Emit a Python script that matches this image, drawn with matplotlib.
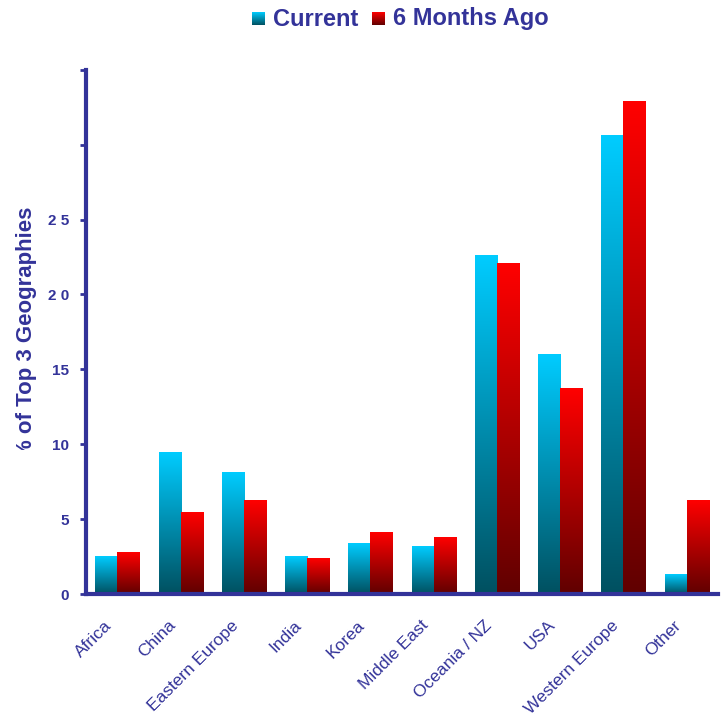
import matplotlib.pyplot as plt
import numpy as np
from matplotlib.colors import LinearSegmentedColormap
from matplotlib.transforms import Bbox, ScaledTranslation

categories = ['Africa', 'China', 'Eastern Europe', 'India', 'Korea',
              'Middle East', 'Oceania / NZ', 'USA', 'Western Europe', 'Other']
current = [2.5, 9.45, 8.1, 2.5, 3.4, 3.15, 22.6, 16.0, 30.6, 1.3]
six_months = [2.75, 5.45, 6.25, 2.35, 4.1, 3.8, 22.05, 13.75, 32.9, 6.25]
y_ticks = [0, 5, 10, 15, 20, 25, 30, 35]
y_tick_labels = ['0', '5', '10', '15', '2 0', '2 5', '', '']

navy = '#333399'
cmap_cur = LinearSegmentedColormap.from_list('cur', ['#005060', '#00ccff'])
cmap_old = LinearSegmentedColormap.from_list('old', ['#600000', '#ff0000'])
grad = np.linspace(0, 1, 256).reshape(-1, 1)

plt.rcParams['font.family'] = ['Liberation Sans', 'DejaVu Sans']

fig = plt.figure(figsize=(7.27, 7.2), dpi=100)
ax = fig.add_axes([0.118, 0.175, 0.87, 0.728])

w = 0.35
x = np.arange(len(categories))
for i in x:
    for val, off, cm in [(current[i], -w / 2, cmap_cur), (six_months[i], w / 2, cmap_old)]:
        ax.imshow(grad, cmap=cm, origin='lower', aspect='auto',
                  extent=[i + off - w / 2, i + off + w / 2, 0, val], zorder=2)

ax.set_xlim(-0.5, len(categories) - 0.5)
ax.set_ylim(0, 35)
ax.set_yticks(y_ticks)
ax.set_yticklabels(y_tick_labels, fontsize=11, fontweight='bold', color=navy)
ax.set_xticks(x)
ax.set_xticklabels(categories, rotation=45, ha='right', rotation_mode='anchor',
                   fontsize=12.5, color=navy)
ax.tick_params(axis='x', length=0, pad=17)
ax.tick_params(axis='y', length=4, width=2, color=navy, pad=8)
shift = ScaledTranslation(-13 / 100, 0, fig.dpi_scale_trans)
for lab in ax.get_xticklabels():
    lab.set_transform(lab.get_transform() + shift)
for s in ['top', 'right']:
    ax.spines[s].set_visible(False)
for s in ['left', 'bottom']:
    ax.spines[s].set_color(navy)
    ax.spines[s].set_linewidth(3)

# clipped y label
yl = fig.text(0.036, 0.5375, '% of Top 3 Geographies', rotation=90, ha='center', va='center',
              fontsize=16, fontweight='bold', color=navy)
yl.set_clip_box(Bbox.from_extents(0, 720 - 450, 727, 720))
yl.set_clip_on(True)

# legend
for (x0, cm, label) in [(252, cmap_cur, 'Current'), (372, cmap_old, '6 Months Ago')]:
    lax = fig.add_axes([x0 / 727, (720 - 25) / 720, 13 / 727, 13 / 720])
    lax.imshow(grad, cmap=cm, origin='lower', aspect='auto')
    lax.axis('off')
    fig.text((x0 + 21) / 727, (720 - 19) / 720, label, ha='left', va='center',
             fontsize=17, fontweight='bold', color=navy)

fig.savefig('out.png', dpi=100)
